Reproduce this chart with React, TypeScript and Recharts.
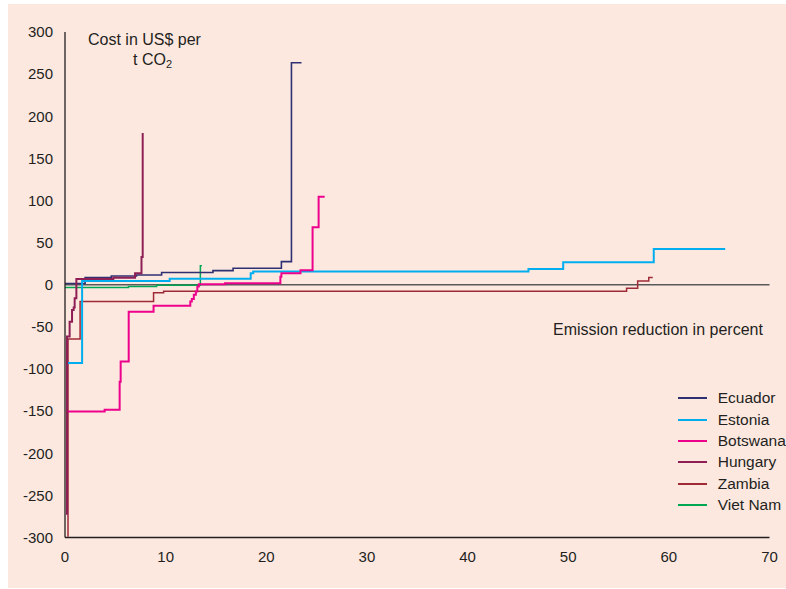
import React from "react";
import { LineChart, Line, XAxis, YAxis, ReferenceLine } from "recharts";

const xTicks = [0, 10, 20, 30, 40, 50, 60, 70];
const yTicks = [-300, -250, -200, -150, -100, -50, 0, 50, 100, 150, 200, 250, 300];

const ecuadorReduction = [0, 2.0, 4.6, 7.1, 9.6, 14.7, 16.7, 21.5, 22.5, 23.5];
const ecuadorCost = [1.5, 8.4, 10.4, 11.5, 14.5, 16.8, 19.5, 27.4, 263.5, 263.5];

const estoniaReduction = [0.3, 1.7, 10.4, 18.45, 18.7, 46.05, 49.5, 58.5, 65.6];
const estoniaCost = [-93, 4.5, 7, 13.6, 15.6, 18.7, 26.7, 42.5, 42.5];

const botswanaReduction = [0.3, 3.94, 5.43, 5.53, 6.33, 8.8, 12.45, 12.6, 12.8, 13.0, 13.15, 13.3, 15.9, 21.4, 21.5, 23.4, 24.6, 25.2, 25.8];
const botswanaCost = [-150.5, -148.5, -115, -91, -32, -24.8, -20, -17, -12, -8, -2.2, 0.6, 1.8, 9.6, 13.6, 17.2, 68.2, 104.5, 104.5];

const hungaryReduction = [0.2, 0.2, 0.46, 0.7, 0.86, 0.96, 1.13, 4.8, 6.96, 7.6, 7.72];
const hungaryCost = [-273, -61.5, -43.8, -29.9, -27, -16, 6.9, 8.4, 13.6, 33, 180];

const zambiaReduction = [0.3, 0.3, 1.5, 8.8, 9.8, 55.8, 56.9, 58.0, 58.4];
const zambiaCost = [-299, -64.5, -20, -9.5, -7.8, -4.2, 4.5, 8.5, 8.5];

const vietnamReduction = [0, 6.3, 9.1, 13.45, 13.6];
const vietnamCost = [-3.4, -2.2, -0.5, 22.7, 22.7];

const build = (xs: number[], ys: number[]) => xs.map((x, i) => ({ x, y: ys[i] }));

const series = [
  { name: "Zambia", color: "#9e2a36", width: 1.5, data: build(zambiaReduction, zambiaCost) },
  { name: "Viet Nam", color: "#00a651", width: 1.5, data: build(vietnamReduction, vietnamCost) },
  { name: "Ecuador", color: "#2e3072", width: 1.6, data: build(ecuadorReduction, ecuadorCost) },
  { name: "Estonia", color: "#00aeef", width: 2, data: build(estoniaReduction, estoniaCost) },
  { name: "Botswana", color: "#ec008c", width: 2, data: build(botswanaReduction, botswanaCost) },
  { name: "Hungary", color: "#8e1f55", width: 2, data: build(hungaryReduction, hungaryCost) },
];

const legendOrder = ["Ecuador", "Estonia", "Botswana", "Hungary", "Zambia", "Viet Nam"];

const FONT = "'Liberation Sans', Arial, Helvetica, sans-serif";
const TEXT = "#231f20";

export default function App() {
  return (
    <div style={{ position: "absolute", left: 0, top: 0, width: 786, height: 589, background: "#ffffff", overflow: "hidden", fontFamily: FONT }}>
      <div style={{ position: "absolute", left: 8, top: 4, width: 778, height: 584, background: "#fde8e0" }} />
      <div style={{ position: "absolute", left: 0, top: 0 }}>
        <LineChart width={786} height={589} margin={{ top: 32, right: 16.5, bottom: 21.5, left: 5 }}>
          <XAxis
            type="number"
            dataKey="x"
            domain={[0, 70]}
            ticks={xTicks}
            allowDataOverflow
            height={30}
            tickLine={false}
            tickSize={0}
            tickMargin={14}
            axisLine={{ stroke: TEXT, strokeWidth: 1.3 }}
            tick={{ fill: TEXT, fontSize: 15, fontFamily: FONT }}
          />
          <YAxis
            type="number"
            dataKey="y"
            domain={[-300, 300]}
            ticks={yTicks}
            allowDataOverflow
            width={60}
            tickLine={false}
            tickSize={0}
            tickMargin={12}
            axisLine={{ stroke: TEXT, strokeWidth: 1.3 }}
            tick={{ fill: TEXT, fontSize: 15, fontFamily: FONT }}
          />
          <ReferenceLine y={0} stroke="#58595b" strokeWidth={1.5} />
          {series.map((s) => (
            <Line
              key={s.name}
              data={s.data}
              dataKey="y"
              name={s.name}
              type="stepAfter"
              stroke={s.color}
              strokeWidth={s.width}
              dot={false}
              activeDot={false}
              isAnimationActive={false}
            />
          ))}
        </LineChart>
      </div>
      <div style={{ position: "absolute", left: 88, top: 30, fontSize: 16, color: TEXT, lineHeight: "19px" }}>
        Cost in US$ per
      </div>
      <div style={{ position: "absolute", left: 133, top: 50, fontSize: 16, color: TEXT, lineHeight: "19px", whiteSpace: "nowrap" }}>
        t CO<span style={{ fontSize: 11, position: "relative", top: 3 }}>2</span>
      </div>
      <div style={{ position: "absolute", left: 553, top: 320, fontSize: 16, color: TEXT, lineHeight: "19px", whiteSpace: "nowrap" }}>
        Emission reduction in percent
      </div>
      <div style={{ position: "absolute", left: 678, top: 387.7 }}>
        {legendOrder.map((n) => {
          const s = series.find((q) => q.name === n)!;
          return (
            <div key={n} style={{ display: "flex", alignItems: "center", height: 21.3, whiteSpace: "nowrap" }}>
              <svg width={29} height={4} style={{ display: "block" }}>
                <line x1={0} y1={2} x2={29} y2={2} stroke={s.color} strokeWidth={2} />
              </svg>
              <span style={{ marginLeft: 10.7, fontSize: 15.5, color: TEXT }}>{n}</span>
            </div>
          );
        })}
      </div>
    </div>
  );
}
